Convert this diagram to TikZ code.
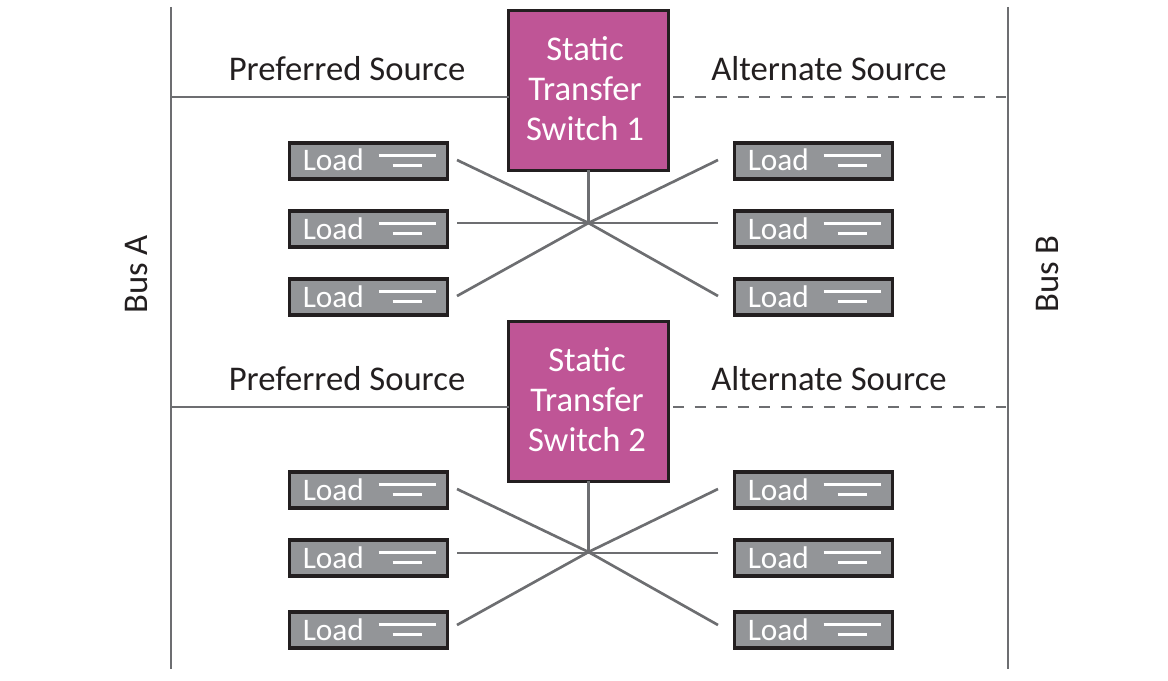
\documentclass[tikz,border=0pt]{standalone}
\usepackage{fontspec}
\setmainfont{Carlito}
\definecolor{wirec}{HTML}{6D6E71}
\definecolor{loadc}{HTML}{939598}
\definecolor{edgec}{HTML}{231F20}
\definecolor{stsc}{HTML}{BF5596}
\newcommand{\ptsz}{\fontsize{26}{30}\selectfont}
\newcommand{\ltsz}{\fontsize{23.5}{27}\selectfont}
\tikzset{
  wire/.style={draw=wirec,line width=2pt},
  dashwire/.style={wire,dash pattern=on 8.25pt off 7.9pt},
  loadbox/.style={draw=edgec,fill=loadc,line width=2.3pt,minimum width=118.5pt,minimum height=27pt,inner sep=0pt,outer sep=0pt},
  loadtxt/.style={text=white,inner sep=0pt,anchor=base west,font=\ltsz},
  mark line/.style={draw=white,line width=1.7pt},
  stsbox/.style={draw=edgec,fill=stsc,line width=2.3pt,minimum width=119.5pt,minimum height=119.5pt,inner sep=0pt,outer sep=0pt},
  ststxt/.style={text=white,align=center,font=\ptsz,inner sep=0pt},
  lab/.style={text=edgec,inner sep=0pt,font=\ptsz},
  bus/.style={lab,rotate=90}
}
\newcommand{\loadat}[3]{% name, x centre, y centre
  \node[loadbox] (#1) at (#2,#3) {};
  \node[loadtxt] (#1t) at (#2-66,#3+10) {Load};
  \draw[mark line] (#2+10,#3-5.5) -- (#2+67,#3-5.5);
  \draw[mark line] (#2+24,#3+4.5) -- (#2+53,#3+4.5);
}
\begin{document}
\begin{tikzpicture}[x=0.75pt,y=-0.75pt]
\useasboundingbox (0,0) rectangle (1168,681);
% buses
\coordinate (at) at (171,7); \coordinate (ab) at (171,669);
\coordinate (bt) at (1008,7); \coordinate (bb) at (1008,669);
\draw[wire] (at) -- (ab);
\draw[wire] (bt) -- (bb);
\node[bus] (busa) at (137,274.5) {Bus A};
\node[bus] (busb) at (1047,274) {Bus B};
% switches
\node[stsbox] (s1) at (588.5,90.5) {};
\node[stsbox] (s2) at (588.5,401.5) {};
\node[ststxt] (s1t) at (585,88.5) {Static\\[-0.2pt]Transfer\\[-0.2pt]Switch 1};
\node[ststxt] (s2t) at (587,399.5) {Static\\[-0.2pt]Transfer\\[-0.2pt]Switch 2};
% source lines
\coordinate (a1) at (171,97); \coordinate (b1) at (1006,97); \coordinate (d1) at (673,97);
\coordinate (a2) at (171,407); \coordinate (b2) at (1006,407); \coordinate (d2) at (673,407);
\draw[wire] (a1) -- (a1-|s1.west);
\draw[dashwire] (d1) -- (b1);
\draw[wire] (a2) -- (a2-|s2.west);
\draw[dashwire] (d2) -- (b2);
\node[lab] (p1) at (347,69) {Preferred Source};
\node[lab] (q1) at (829,69) {Alternate Source};
\node[lab] (p2) at (347,379) {Preferred Source};
\node[lab] (q2) at (829,379) {Alternate Source};
% loads
\loadat{la}{368.5}{161}
\loadat{lb}{368.5}{229}
\loadat{lc}{368.5}{297}
\loadat{ra}{813.5}{161}
\loadat{rb}{813.5}{229}
\loadat{rc}{813.5}{297}
\loadat{ld}{368.5}{490}
\loadat{le}{368.5}{558}
\loadat{lf}{368.5}{630}
\loadat{rd}{813.5}{490}
\loadat{re}{813.5}{558}
\loadat{rf}{813.5}{630}
% hubs
\coordinate (h1) at (588.5,223);
\coordinate (h2) at (588.5,552);
\draw[wire] (s1.south) -- (h1);
\draw[wire] (s2.south) -- (h2);
\coordinate (w1) at (457,160); \coordinate (w2) at (457,223); \coordinate (w3) at (457,296);
\coordinate (e1) at (718,160); \coordinate (e2) at (718,223); \coordinate (e3) at (718,296);
\coordinate (w4) at (457,489); \coordinate (w5) at (457,553); \coordinate (w6) at (457,625);
\coordinate (e4) at (718,489); \coordinate (e5) at (718,553); \coordinate (e6) at (718,625);
\draw[wire] (w1) -- (h1) -- (e3);
\draw[wire] (w3) -- (h1) -- (e1);
\draw[wire] (w2) -- (e2);
\draw[wire] (w4) -- (h2) -- (e6);
\draw[wire] (w6) -- (h2) -- (e4);
\draw[wire] (w5) -- (e5);
\end{tikzpicture}
\end{document}
